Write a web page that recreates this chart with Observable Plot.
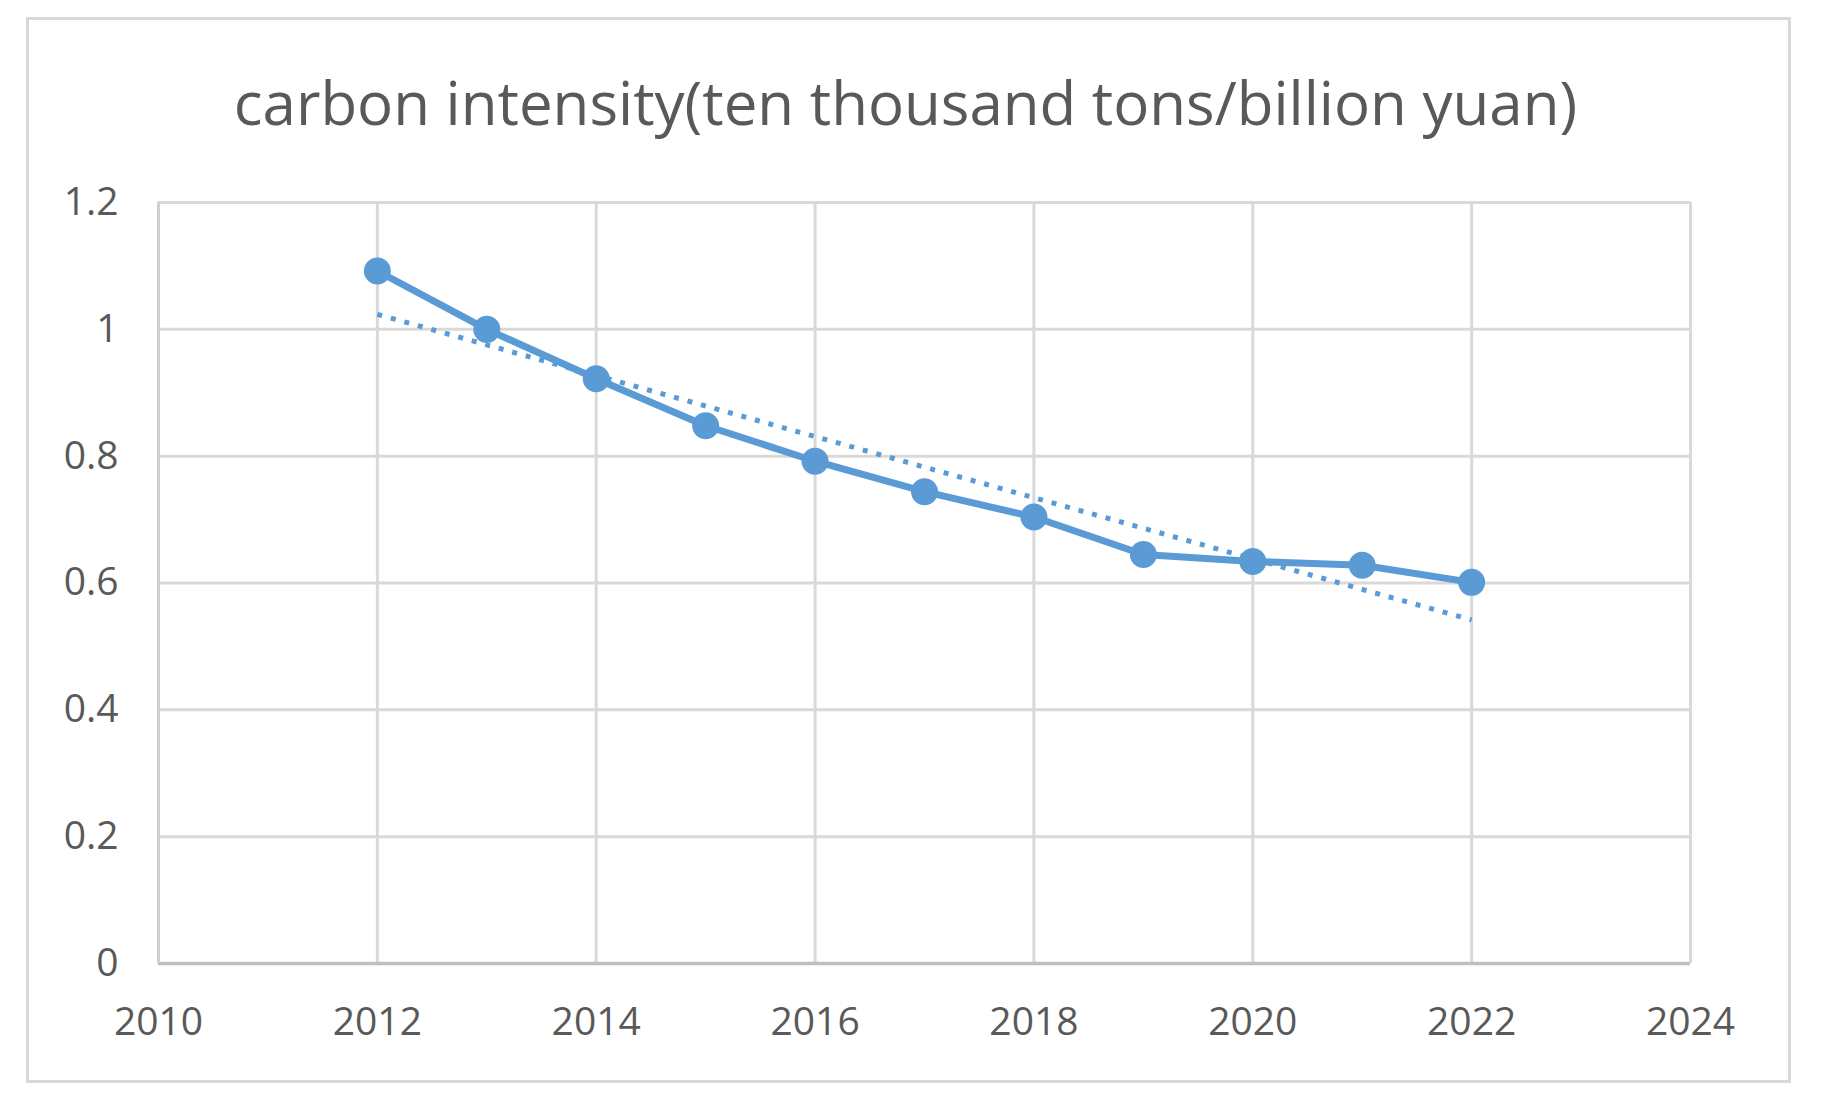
<!DOCTYPE html>
<html>
<head>
<meta charset="utf-8">
<script src="https://cdn.jsdelivr.net/npm/d3@7"></script>
<script src="https://cdn.jsdelivr.net/npm/@observablehq/plot@0.6"></script>
<style>
  html, body { margin: 0; padding: 0; background: #fff; }
  #page { position: relative; width: 1823px; height: 1109px; overflow: hidden; font-family: "Open Sans", sans-serif; }
  #frame { position: absolute; left: 26px; top: 17px; width: 1759px; height: 1060px; border: 3px solid #d9d9d9; }
  #title { position: absolute; left: 0; top: 0; width: 1823px; height: 170px; display: flex; align-items: center; justify-content: center; color: #595959; font-size: 60px; box-sizing: border-box; padding-top: 34px; padding-right: 12px; }
  #chart { position: absolute; left: 0; top: 170px; }
</style>
</head>
<body>
<div id="page">
  <div id="frame"></div>
  <div id="title">carbon intensity(ten thousand tons/billion yuan)</div>
  <div id="chart"></div>
</div>
<script>
const years = [2012, 2013, 2014, 2015, 2016, 2017, 2018, 2019, 2020, 2021, 2022];
const intensity = [1.092, 1.000, 0.922, 0.848, 0.792, 0.744, 0.704, 0.645, 0.634, 0.628, 0.601];
const xTicks = [2010, 2012, 2014, 2016, 2018, 2020, 2022, 2024];
const yTicks = [0, 0.2, 0.4, 0.6, 0.8, 1, 1.2];

const data = years.map((y, i) => ({year: y, value: intensity[i]}));
const blue = "#5b9bd5";

const chart = Plot.plot({
  width: 1823,
  height: 939,
  marginLeft: 158,
  marginRight: 133,
  marginTop: 32,
  marginBottom: 146,
  style: {fontFamily: "'Open Sans', sans-serif", fontSize: "39px", color: "#595959", background: "transparent"},
  x: {domain: [2010, 2024], ticks: xTicks, tickFormat: d => String(d), label: null, tickSize: 0, tickPadding: 44},
  y: {domain: [0, 1.2], ticks: yTicks, tickFormat: d => String(+d.toFixed(1)), label: null, tickSize: 0, tickPadding: 40},
  marks: [
    Plot.gridX(xTicks, {stroke: "#d9d9d9", strokeOpacity: 1, strokeWidth: 3}),
    Plot.gridY(yTicks, {stroke: "#d9d9d9", strokeOpacity: 1, strokeWidth: 3}),
    Plot.ruleY([0], {stroke: "#bfbfbf", strokeWidth: 3.5}),
    Plot.ruleX([2010], {stroke: "#d0d0d0", strokeWidth: 3}),
    Plot.axisX({ticks: xTicks, tickFormat: d => String(d), tickSize: 0, tickPadding: 44, fill: "#595959", label: null}),
    Plot.axisY({ticks: yTicks, tickFormat: d => String(+d.toFixed(1)), tickSize: 0, tickPadding: 40, fill: "#595959", label: null}),
    Plot.linearRegressionY(data, {x: "year", y: "value", ci: 0, stroke: blue, strokeWidth: 5, strokeDasharray: "5,9", strokeLinecap: "butt"}),
    Plot.line(data, {x: "year", y: "value", stroke: blue, strokeWidth: 7}),
    Plot.dot(data, {x: "year", y: "value", r: 13.5, fill: blue, stroke: "none"})
  ]
});
document.getElementById("chart").appendChild(chart);
</script>
</body>
</html>
